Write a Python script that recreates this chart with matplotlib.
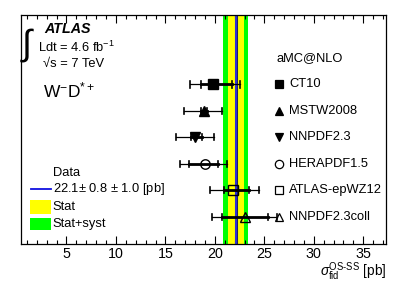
import numpy as np
import matplotlib.pyplot as plt
from matplotlib.patches import Rectangle

plt.rcParams['font.family'] = ['Liberation Sans', 'DejaVu Sans']
plt.rcParams['mathtext.fontset'] = 'custom'
plt.rcParams['mathtext.rm'] = 'Liberation Sans'
plt.rcParams['mathtext.it'] = 'Liberation Sans:italic'

# measured cross section
data_val = 22.1
data_stat = 0.8
data_syst = 1.0

# aMC@NLO predictions (top to bottom)
pdf_names = ['CT10', 'MSTW2008', 'NNPDF2.3', 'HERAPDF1.5', 'ATLAS-epWZ12', 'NNPDF2.3coll']
pred_val = [19.8, 18.9, 18.0, 19.0, 21.8, 23.0]
inner_lo = [18.6, 18.55, 17.55, 17.4, 20.9, 20.7]
inner_hi = [21.7, 19.2, 18.7, 20.3, 23.4, 25.4]
outer_lo = [17.5, 16.9, 16.1, 16.5, 19.5, 19.7]
outer_hi = [22.5, 20.7, 19.9, 21.2, 24.5, 26.3]
markers = ['s', '^', 'v', 'o', 's', '^']
filled = [True, True, True, False, False, False]

fs = 9.3

fig = plt.figure(figsize=(4.07, 2.92), dpi=100)
ax = fig.add_axes([20.5 / 407, 1 - 244 / 292, 365.5 / 407, 229 / 292])

ax.set_xlim(0.35, 37.3)
ax.set_ylim(-0.03, 8.62)

# data bands
tot = np.sqrt(data_stat ** 2 + data_syst ** 2)
ax.axvspan(data_val - tot, data_val + tot, color='#00ff00', lw=0, zorder=1)
ax.axvspan(data_val - data_stat, data_val + data_stat, color='#ffff00', lw=0, zorder=1)
ax.axvline(data_val, color='#202060', lw=2.2, zorder=2)
ax.axvline(data_val, color='#3333ee', lw=1.2, zorder=2)

rows = np.arange(len(pdf_names), 0, -1)
for i, y in enumerate(rows):
    ax.plot([outer_lo[i], outer_hi[i]], [y, y], color='black', lw=0.9, zorder=3)
    ax.plot([inner_lo[i], inner_hi[i]], [y, y], color='black', lw=2.0, zorder=3)
    for xc in [outer_lo[i], outer_hi[i], inner_lo[i], inner_hi[i]]:
        ax.plot([xc, xc], [y - 0.12, y + 0.12], color='black', lw=1.2, zorder=3)
    fc = 'black' if filled[i] else 'none'
    ax.plot(pred_val[i], y, marker=markers[i], ms=6.8, mfc=fc, mec='black',
            mew=1.0, ls='none', zorder=4)
    # legend entries on the right
    ax.plot(26.5, y, marker=markers[i], ms=6, mfc=fc, mec='black',
            mew=0.9, ls='none', zorder=4)
    ax.text(27.5, y, pdf_names[i], fontsize=fs, va='center', ha='left')

ax.text(26.2, 7.0, 'aMC@NLO', fontsize=fs, va='center', ha='left')

# lower-left legend
ax.text(3.6, 2.66, 'Data', fontsize=fs, va='center', ha='left')
ax.plot([1.4, 3.4], [2.03, 2.03], color='#1010e0', lw=1.3)
ax.text(3.6, 2.03, '22.1$\\pm$ 0.8 $\\pm$ 1.0 [pb]', fontsize=fs, va='center', ha='left')
ax.add_patch(Rectangle((1.3, 1.11), 2.15, 0.51, color='#ffff00', lw=0))
ax.text(3.6, 1.37, 'Stat', fontsize=fs, va='center', ha='left')
ax.add_patch(Rectangle((1.3, 0.49), 2.15, 0.47, color='#00ff00', lw=0))
ax.text(3.6, 0.72, 'Stat+syst', fontsize=fs, va='center', ha='left')

# ATLAS labels
fig.text(22 / 407, 1 - 45 / 292, '\u222b', fontsize=26, va='center', ha='left',
         family=['Liberation Sans', 'DejaVu Sans'])
fig.text(44 / 407, 1 - 29 / 292, 'ATLAS', fontsize=10.3, fontweight='bold',
         fontstyle='italic', va='center', ha='left')
fig.text(38 / 407, 1 - 47 / 292, 'Ldt = 4.6 fb$^{-1}$', fontsize=fs,
         va='center', ha='left')
fig.text(43 / 407, 1 - 64 / 292, '\u221as = 7 TeV', fontsize=fs,
         va='center', ha='left')
fig.text(43 / 407, 1 - 90 / 292, 'W$^{-}$D$^{*+}$',
         fontsize=12.5, va='center', ha='left')

# axes styling
ax.set_xticks(np.arange(5, 36, 5))
ax.set_xticks(np.arange(1, 38, 1), minor=True)
ax.set_yticks([])
ax.tick_params(axis='x', which='major', direction='in', length=6, width=0.8,
               top=True, labelsize=10.3, pad=2)
ax.tick_params(axis='x', which='minor', direction='in', length=3, width=0.8, top=True)
for s in ax.spines.values():
    s.set_linewidth(0.9)

fig.text(386 / 407, 1 - 272 / 292, '$\\sigma_{\\rm fid}^{\\rm OS\\text{-}SS}$ [pb]',
         fontsize=9.8, ha='right', va='center')

fig.savefig('out.png', dpi=100)
